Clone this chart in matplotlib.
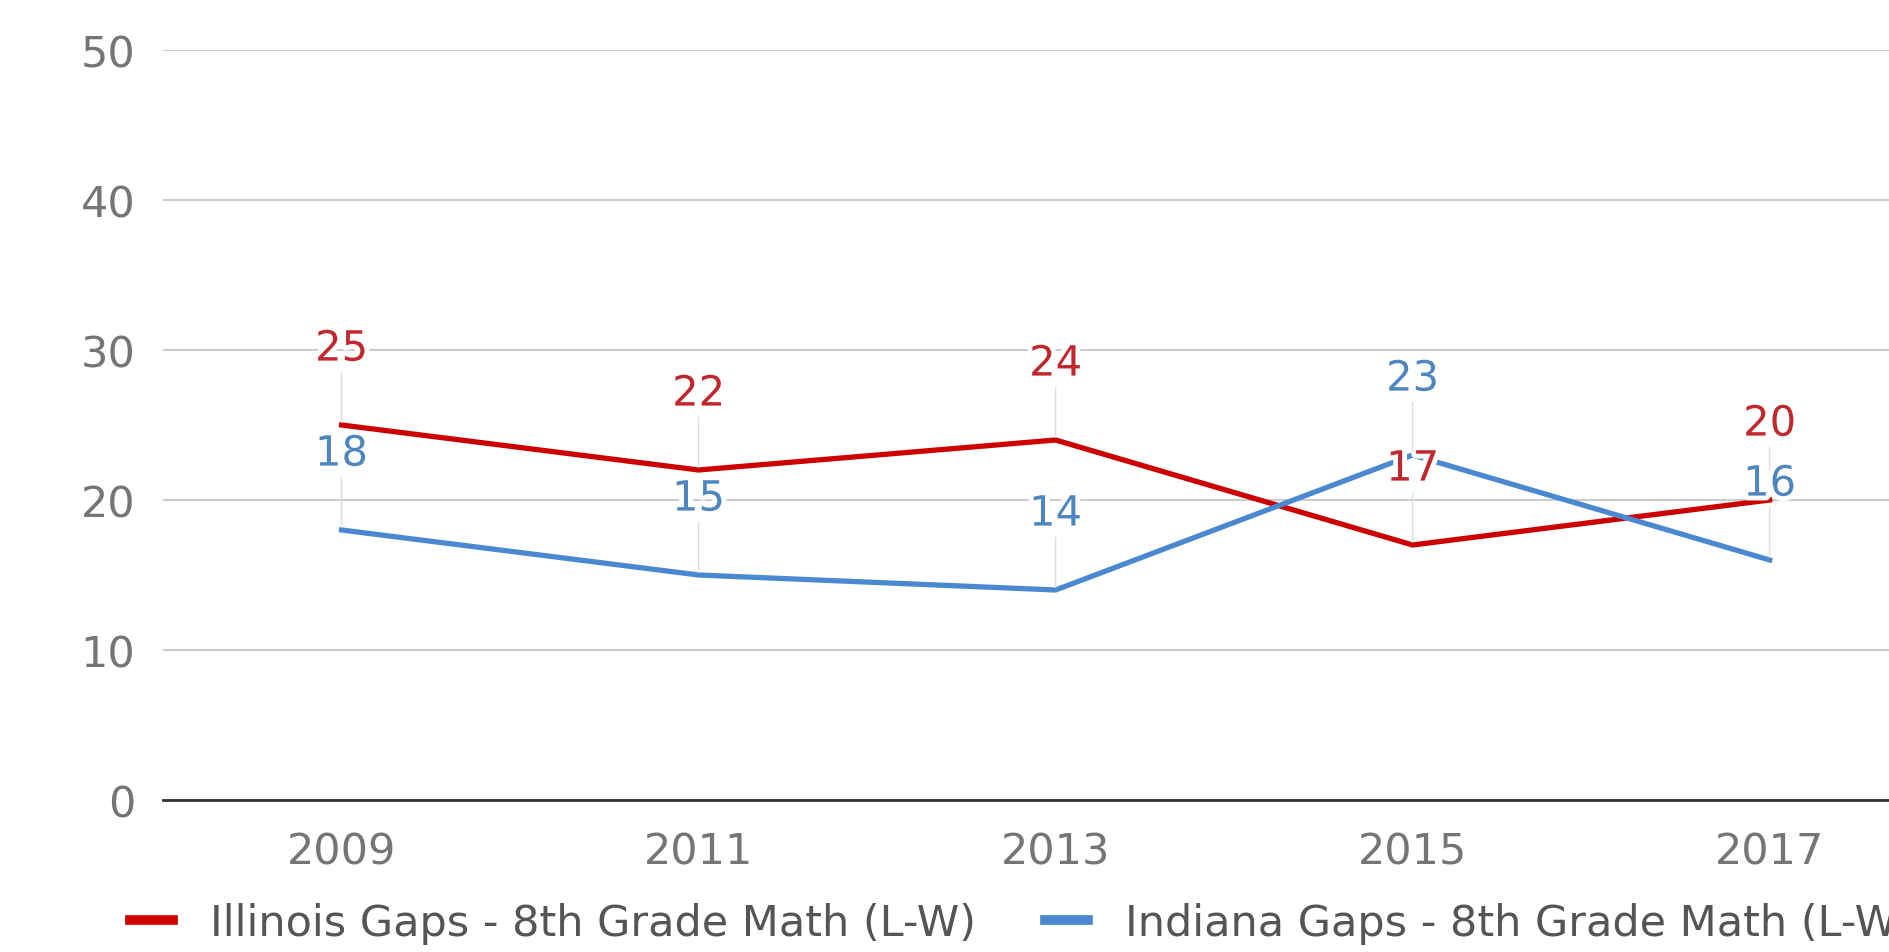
import matplotlib
matplotlib.use("Agg")
import matplotlib.pyplot as plt
import matplotlib.patheffects as pe

# data
years = ["2009", "2011", "2013", "2015", "2017"]
illinois = [25, 22, 24, 17, 20]
indiana = [18, 15, 14, 23, 16]
names = ["Illinois Gaps - 8th Grade Math (L-W)", "Indiana Gaps - 8th Grade Math (L-W)"]
yticks = [0, 10, 20, 30, 40, 50]

red = "#cc0000"
blue = "#4a89d0"
red_txt = "#c0282e"
blue_txt = "#4f86c0"

plt.rcParams["font.family"] = ["DejaVu Sans"]

fig = plt.figure(figsize=(18.89, 9.53), dpi=100)
ax = fig.add_axes([0.0863, 0.1595, 0.945, 0.787])

x = list(range(len(years)))
ax.plot(x, illinois, color=red, lw=3.8, label=names[0], zorder=3)
ax.plot(x, indiana, color=blue, lw=3.8, label=names[1], zorder=3)

halo = [pe.withStroke(linewidth=7, foreground="white")]
for vals, c in [(illinois, red_txt), (indiana, blue_txt)]:
    for xi, v in zip(x, vals):
        ax.annotate(str(v), (xi, v), xytext=(0, 55), textcoords="offset points",
                    ha="center", va="center", fontsize=30, color=c, zorder=5,
                    path_effects=halo,
                    arrowprops=dict(arrowstyle="-", color="#dddddd", lw=1,
                                    shrinkA=0, shrinkB=2))

ax.set_xlim(-0.5, len(years) - 0.5)
ax.set_ylim(0, 50)
ax.set_yticks(yticks)
ax.set_xticks(x)
ax.set_xticklabels(years)
ax.tick_params(axis="both", length=0, labelsize=31, labelcolor="#757575")
ax.tick_params(axis="y", pad=20)
ax.tick_params(axis="x", pad=22)
ax.grid(axis="y", color="#cccccc", lw=1.5)
ax.set_axisbelow(True)
for s in ["top", "right", "left"]:
    ax.spines[s].set_visible(False)
ax.spines["bottom"].set_color("#333333")
ax.spines["bottom"].set_linewidth(2)
ax.spines["bottom"].set_zorder(4)

leg = ax.legend(loc="center left", bbox_to_anchor=(-0.04, -0.164), ncol=2,
                frameon=False, fontsize=31, handlelength=1.0, handletextpad=0.85,
                columnspacing=1.6, labelcolor="#555555")
for h in leg.get_lines():
    h.set_linewidth(7)

fig.savefig("out.png", dpi=100)
